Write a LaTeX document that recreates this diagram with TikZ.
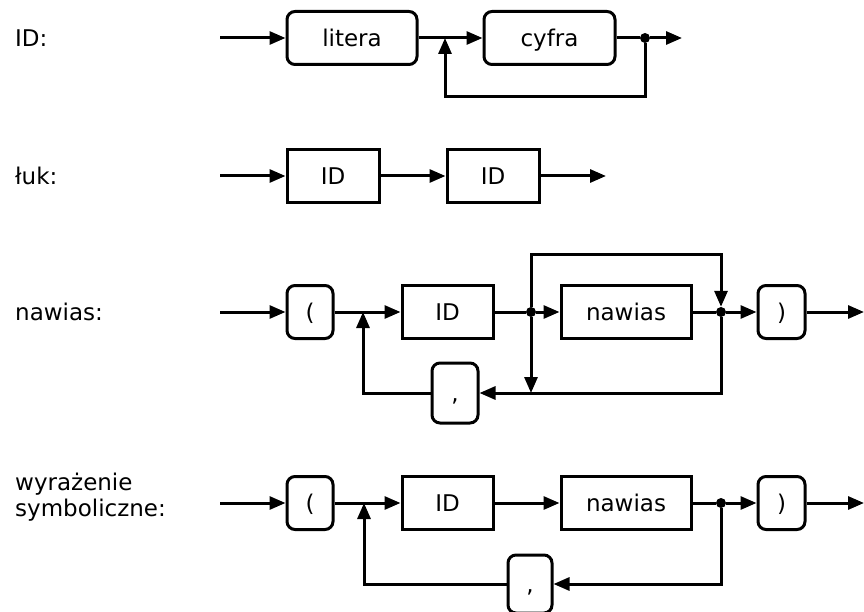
\documentclass[tikz,border=0pt]{standalone}
\usepackage{fontspec}
\setmainfont{DejaVu Sans}
\usetikzlibrary{arrows.meta,positioning,calc}

\tikzset{
  syn/.style={font=\fontsize{23}{26}\selectfont},
  term/.style={syn, draw, line width=3pt, rounded corners=8pt, minimum height=53pt, inner sep=0pt, text height=16.8pt, text depth=0pt},
  nonterm/.style={syn, draw, line width=3pt, minimum height=53pt, inner sep=0pt, text height=16.8pt, text depth=0pt},
  wire/.style={line width=3pt},
  flow/.style={wire, -{Triangle[length=16pt,width=13pt]}},
  junc/.style={circle, fill, inner sep=0pt, minimum size=10pt},
  rulename/.style={syn, anchor=west, align=left, inner sep=0pt}
}

\begin{document}
\begin{tikzpicture}[x=1pt,y=-1pt]
\useasboundingbox (0,0) rectangle (864,612);

% ID
\node[rulename] (lab1) at (15,38) {ID:};
\coordinate (in1) at (220,38);
\node[term, minimum width=130pt] (lit) at (352,38) {litera};
\node[term, minimum width=131pt] (cyf) at (549.5,38) {cyfra};
\coordinate (m1) at (445,38);
\node[junc] (j1) at (645,38) {};
\coordinate (out1) at (682,38);
\coordinate (back1) at (445,97);
\draw[flow] (in1) -- (lit);
\draw[flow] (lit) -- (cyf);
\draw[wire] (cyf) -- (j1);
\draw[flow] (j1) -- (out1);
\draw[flow] (j1) |- (back1) -- (m1);

% luk
\node[rulename] (lab2) at (15,176) {łuk:};
\coordinate (in2) at (220,176);
\node[nonterm, minimum width=92pt] (id2a) at (333,176) {ID};
\node[nonterm, minimum width=92pt] (id2b) at (493,176) {ID};
\coordinate (out2) at (606,176);
\draw[flow] (in2) -- (id2a);
\draw[flow] (id2a) -- (id2b);
\draw[flow] (id2b) -- (out2);

% nawias
\node[rulename] (lab3) at (15,312) {nawias:};
\coordinate (in3) at (220,312);
\node[term, minimum width=46pt] (lp3) at (310,312) {(};
\coordinate (m3) at (363,312);
\node[nonterm, minimum width=91pt] (id3) at (447.5,312) {ID};
\node[junc] (a3) at (531,312) {};
\node[nonterm, minimum width=130pt] (naw3) at (626,312) {nawias};
\node[junc] (b3) at (721,312) {};
\node[term, minimum width=47pt] (rp3) at (781.5,312) {)};
\coordinate (out3) at (864,312);
\node[term, minimum width=46pt, minimum height=60pt] (cm3) at (455,393) {,};
\coordinate (byp3) at (721,255);
\coordinate (dn3) at (531,393);
\draw[flow] (in3) -- (lp3);
\draw[flow] (lp3) -- (id3);
\draw[wire] (id3) -- (a3);
\draw[flow] (a3) -- (naw3);
\draw[wire] (naw3) -- (b3);
\draw[flow] (b3) -- (rp3);
\draw[flow] (rp3) -- (out3);
\draw[flow] (a3) |- (byp3) -- (b3);
\draw[flow] (a3) -- (dn3);
\draw[flow] (b3) |- (cm3);
\draw[flow] (cm3) -| (m3);

% wyrazenie symboliczne
\node[rulename] (lab4) at (15,497) {wyrażenie\\symboliczne:};
\coordinate (in4) at (220,503);
\node[term, minimum width=46pt] (lp4) at (310,503) {(};
\coordinate (m4) at (364,503);
\node[nonterm, minimum width=91pt] (id4) at (447.5,503) {ID};
\node[nonterm, minimum width=130pt] (naw4) at (626,503) {nawias};
\node[junc] (b4) at (721,503) {};
\node[term, minimum width=47pt] (rp4) at (781.5,503) {)};
\coordinate (out4) at (864,503);
\node[term, minimum width=44pt, minimum height=58pt] (cm4) at (530,584) {,};
\draw[flow] (in4) -- (lp4);
\draw[flow] (lp4) -- (id4);
\draw[flow] (id4) -- (naw4);
\draw[wire] (naw4) -- (b4);
\draw[flow] (b4) -- (rp4);
\draw[flow] (rp4) -- (out4);
\draw[flow] (b4) |- (cm4);
\draw[flow] (cm4) -| (m4);
\end{tikzpicture}
\end{document}
